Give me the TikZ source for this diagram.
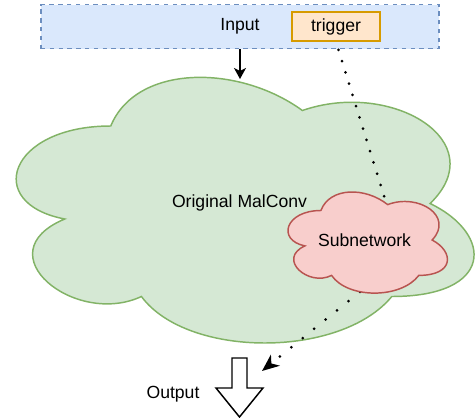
\documentclass[tikz,border=0pt]{standalone}
\usepackage{fontspec}
\setmainfont{Liberation Sans}
\usetikzlibrary{arrows.meta}
\definecolor{inputfill}{HTML}{DAE8FC}
\definecolor{inputline}{HTML}{6C8EBF}
\definecolor{trigfill}{HTML}{FFE6CC}
\definecolor{trigline}{HTML}{D79B00}
\definecolor{convfill}{HTML}{D5E8D4}
\definecolor{convline}{HTML}{82B366}
\definecolor{subfill}{HTML}{F8CECC}
\definecolor{subline}{HTML}{B85450}
\tikzset{
  txt/.style={font=\fontsize{17.6}{21}\selectfont, inner sep=0pt},
  inbox/.style={txt, draw=inputline, fill=inputfill, line width=1.47pt,
    dash pattern=on 4.4pt off 4.4pt, minimum width=398pt, minimum height=44pt},
  trigbox/.style={txt, draw=trigline, fill=trigfill, line width=1.47pt,
    minimum width=88pt, minimum height=29pt},
  blob/.pic={
    \path[pic actions] (0.25,0.25) .. controls (0.05,0.25) and (0,0.5) .. (0.16,0.55)
      .. controls (0,0.66) and (0.18,0.9) .. (0.31,0.8)
      .. controls (0.4,1) and (0.7,1) .. (0.8,0.8)
      .. controls (1,0.8) and (1,0.6) .. (0.875,0.5)
      .. controls (1,0.3) and (0.8,0.1) .. (0.625,0.2)
      .. controls (0.5,0.05) and (0.3,0.05) .. (0.25,0.25) -- cycle;
  },
  dotline/.style={line width=3pt, line cap=round, dash pattern=on 0pt off #1, dash phase=3.4pt},
}
\begin{document}
\begin{tikzpicture}[x=1pt, y=-1pt, line join=miter]
  \useasboundingbox (0,0) rectangle (475,418);
  \node[inbox] (input) at (240,26.7) {Input};
  \node[trigbox] (trigger) at (336,26.5) {trigger};
  \pic[draw=convline, fill=convfill, line width=1.47pt, xscale=511, yscale=310] at (-17,48.5) {blob};
  \node[txt] (malconv) at (239.5,203) {Original MalConv};
  \coordinate (convtop) at (240,79);
  \coordinate (hub) at (403,257);
  \coordinate (outtip) at (262,371);
  \begin{scope}[black]
    \draw[line width=1.47pt, -{Stealth[length=11pt, width=12pt, inset=3pt]}] (input.south) -- (convtop);
    \draw[dotline=11.8pt] (trigger.south) -- (hub);
    \draw[dotline=14.7pt, -{Stealth[length=17pt, width=14pt, inset=5pt]}] (hub) -- (outtip);
  \end{scope}
  \pic[draw=subline, fill=subfill, line width=1.47pt, xscale=178, yscale=118] at (276.4,181) {blob};
  \node[txt] (subnet) at (364.5,240) {Subnetwork};
  \draw[line width=1.47pt, fill=white] (232,358) -- (247,358) -- (247,388) -- (263,388)
    -- (239.5,417) -- (216,388) -- (232,388) -- cycle;
  \node[txt] (output) at (173,394) {Output};
\end{tikzpicture}
\end{document}
